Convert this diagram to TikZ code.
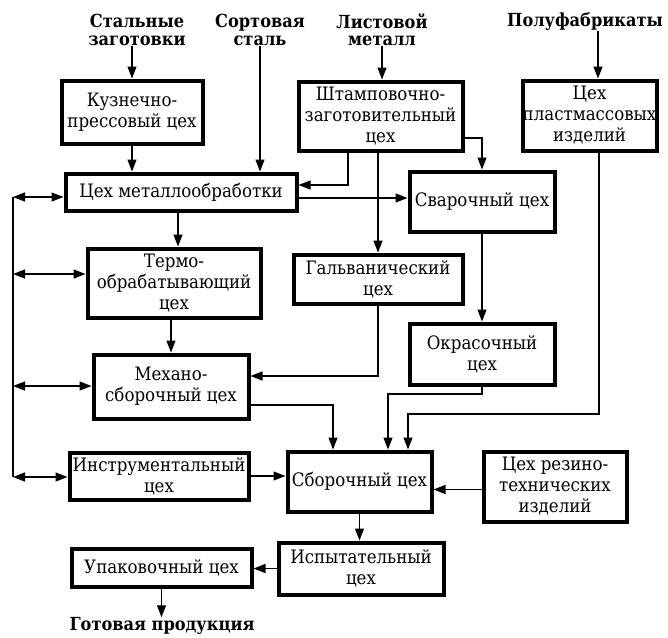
\documentclass[tikz,border=0pt]{standalone}
\usepackage{fontspec}
\setmainfont{DejaVu Serif Condensed}
\usetikzlibrary{arrows.meta,calc}

\begin{document}
\begin{tikzpicture}[x=1pt,y=-1pt,
    shop/.style={draw, line width=4pt, align=center, inner sep=0pt, font=\fontsize{18.5}{21}\selectfont},
    src/.style={align=center, inner sep=0pt, font=\bfseries\fontsize{18}{17.5}\selectfont},
    arr/.style={-{Triangle[length=12pt,width=9pt]}, line width=1.2pt},
    both/.style={{Triangle[length=12pt,width=9pt]}-{Triangle[length=12pt,width=9pt]}, line width=1.2pt}]

            \useasboundingbox (0,0) rectangle (668,637);

            % Raw material labels on top, product at bottom
            \node[src] (stal) at (137,30) {Стальные\\заготовки};
            \node[src] (sort) at (260,30) {Сортовая\\сталь};
            \node[src] (list) at (382,30) {Листовой\\металл};
            \node[src] (polu) at (585,22) {Полуфабрикаты};
            \node[src] (gotov) at (162,626) {Готовая продукция};

            % Shops
            \node[shop, minimum width=141pt, minimum height=63pt] (kuz) at (132,112) {Кузнечно-\\прессовый цех};
            \node[shop, minimum width=231pt, minimum height=37pt] (metal) at (181,192) {Цех металлообработки};
            \node[shop, minimum width=164pt, minimum height=69pt] (shtamp) at (380.5,116) {Штамповочно-\\заготовительный\\цех};
            \node[shop, minimum width=134pt, minimum height=70pt] (plast) at (589.5,115.5) {Цех\\пластмассовых\\изделий};
            \node[shop, minimum width=145pt, minimum height=60pt] (svar) at (482,201.5) {Сварочный цех};
            \node[shop, minimum width=173pt, minimum height=69pt] (termo) at (174,283) {Термо-\\обрабатывающий\\цех};
            \node[shop, minimum width=169pt, minimum height=49pt] (galv) at (378,279) {Гальванический\\цех};
            \node[shop, minimum width=145pt, minimum height=61pt] (okras) at (482,354) {Окрасочный\\цех};
            \node[shop, minimum width=155pt, minimum height=64pt] (mech) at (171,386.5) {Механо-\\сборочный цех};
            \node[shop, minimum width=179pt, minimum height=47pt] (instr) at (159,476) {Инструментальный\\цех};
            \node[shop, minimum width=144pt, minimum height=60pt] (sbor) at (359.5,481.5) {Сборочный цех};
            \node[shop, minimum width=143pt, minimum height=70pt] (rezin) at (555,486.5) {Цех резино-\\технических\\изделий};
            \node[shop, minimum width=165pt, minimum height=52pt] (isp) at (361,568.5) {Испытательный\\цех};
            \node[shop, minimum width=180pt, minimum height=38pt] (upak) at (161.5,567.5) {Упаковочный цех};

            % Inputs
            \draw[arr] (kuz.north |- stal.south) -- (kuz.north);
            \draw[arr] (sort.south) -- (sort.south |- metal.north);
            \draw[arr] (list.south) -- (list.south |- shtamp.north);
            \draw[arr] ([xshift=13pt]polu.south) -- ([xshift=13pt]polu.south |- plast.north);

            % Flows between shops
            \draw[arr] (kuz.south) -- (kuz.south |- metal.north);
            \draw[arr] ([xshift=-32.5pt]shtamp.south) |- ([yshift=7pt]metal.east);
            \draw[arr] ([yshift=-6pt]metal.east) -- ([yshift=-6pt]metal.east -| svar.west);
            \draw[arr] (galv.north |- shtamp.south) -- (galv.north);
            \draw[arr] ([yshift=-22pt]shtamp.east) -| (svar.north);
            \draw[arr] (svar.south) -- (okras.north);
            \draw[arr] ([xshift=-3pt]metal.south) -- ([xshift=-3pt]metal.south |- termo.north);
            \draw[arr] (mech.north |- termo.south) -- (mech.north);
            \draw[arr] (galv.south) |- ([yshift=10.5pt]mech.east);

            % Into the assembly shop
            \coordinate (m1) at (333,405);
            \coordinate (o1) at (388,394);
            \coordinate (p1) at (408,414);
            \draw[arr] (m1 -| mech.east) -- (m1) -- (m1 |- sbor.north);
            \draw[arr] (okras.south) |- (o1) -- (o1 |- sbor.north);
            \draw[arr] ([xshift=9.5pt]plast.south) |- (p1) -- (p1 |- sbor.north);
            \draw[arr] (instr.east) -- (instr.east -| sbor.west);
            \draw[arr] ([yshift=-3pt]rezin.west) -- ([yshift=-3pt]rezin.west -| sbor.east);
            \draw[arr] (sbor.south) -- (sbor.south |- isp.north);
            \draw[arr] (isp.west) -- (isp.west -| upak.east);
            \draw[arr] (upak.south) -- (upak.south |- gotov.north);

            % Left bus with two-way links
            \coordinate (bt) at (13,197);
            \coordinate (bb) at (13,477);
            \draw[line width=1.2pt] (bt) -- (bb);
            \foreach \n/\y in {metal/197, termo/274, mech/386, instr/477}
                \draw[both] (13,\y) -- (\n.west |- 13,\y);
        \end{tikzpicture}
\end{document}
